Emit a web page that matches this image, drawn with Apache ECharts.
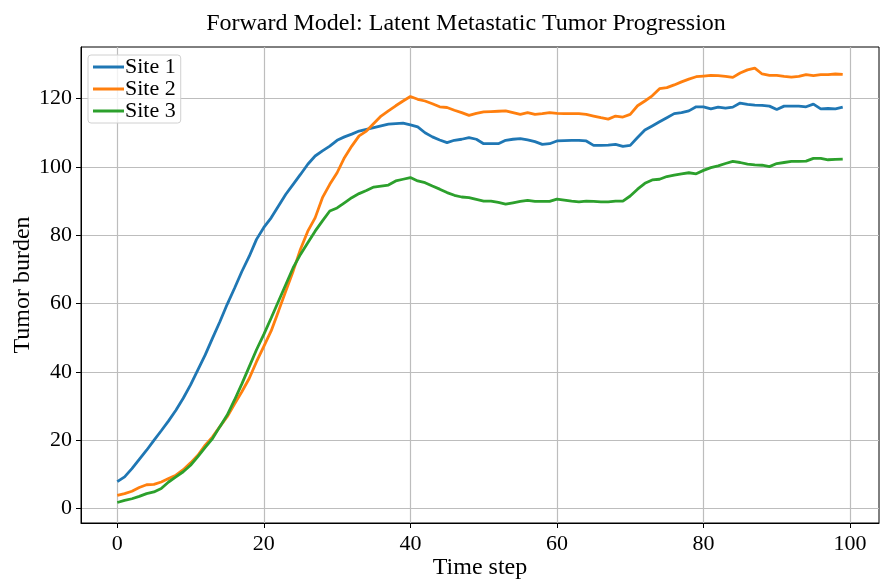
<!DOCTYPE html>
<html>
<head>
<meta charset="utf-8">
<script src="https://cdn.jsdelivr.net/npm/echarts@6/dist/echarts.min.js"></script>
<style>
  html, body { margin: 0; padding: 0; background: #fff; }
  #chart_tumor { width: 880px; height: 579px; }
</style>
</head>
<body>
<div id="chart_tumor"></div>
<script>
const seriesNames = ["Site 1", "Site 2", "Site 3"];

const site1 = [7.9, 9.3, 11.7, 14.4, 17.1, 20.0, 22.8, 25.7, 28.8, 32.3,
    36.2, 40.6, 45.0, 49.9, 54.7, 59.8, 64.5, 69.4, 73.8, 78.8,
    82.3, 85.1, 88.6, 92.0, 94.9, 97.8, 100.8, 103.2, 104.7, 106.1,
    107.8, 108.8, 109.6, 110.5, 111.0, 111.5, 112.0, 112.5, 112.7, 112.8,
    112.3, 111.7, 110.0, 108.8, 107.9, 107.1, 107.8, 108.1, 108.6, 108.1,
    106.8, 106.8, 106.8, 107.8, 108.1, 108.3, 107.9, 107.4, 106.6, 106.8,
    107.6, 107.7, 107.8, 107.8, 107.6, 106.3, 106.3, 106.4, 106.6, 106.0,
    106.3, 108.6, 110.8, 112.0, 113.2, 114.4, 115.6, 115.9, 116.4, 117.6,
    117.6, 117.0, 117.5, 117.2, 117.5, 118.7, 118.3, 118.1, 118.0, 117.8,
    116.8, 117.8, 117.8, 117.8, 117.6, 118.4, 117.0, 117.1, 117.0, 117.5];

const site2 = [3.9, 4.4, 5.1, 6.2, 7.0, 7.1, 7.8, 8.8, 9.8, 11.4,
    13.4, 15.6, 18.6, 21.0, 24.0, 26.9, 30.6, 34.2, 38.1, 43.0,
    47.5, 52.0, 57.8, 63.7, 69.5, 75.9, 81.2, 85.1, 91.0, 94.9,
    98.3, 102.7, 106.1, 109.1, 110.5, 112.7, 114.9, 116.4, 117.9, 119.3,
    120.6, 119.8, 119.3, 118.5, 117.6, 117.4, 116.6, 115.9, 115.1, 115.7,
    116.1, 116.2, 116.3, 116.4, 115.9, 115.4, 115.9, 115.4, 115.6, 115.9,
    115.7, 115.6, 115.6, 115.6, 115.4, 114.9, 114.4, 114.0, 114.9, 114.6,
    115.4, 117.9, 119.3, 120.8, 122.9, 123.2, 124.0, 124.9, 125.7, 126.4,
    126.6, 126.8, 126.7, 126.5, 126.2, 127.5, 128.4, 128.9, 127.2, 126.8,
    126.8, 126.5, 126.3, 126.5, 127.0, 126.7, 127.0, 127.0, 127.2, 127.1];

const site3 = [1.8, 2.4, 2.9, 3.6, 4.4, 4.9, 5.9, 7.8, 9.3, 10.8,
    12.7, 15.2, 17.9, 20.5, 24.0, 27.4, 31.8, 36.5, 41.5, 46.5,
    51.0, 55.8, 60.7, 65.6, 70.5, 74.4, 77.8, 81.2, 84.2, 87.1,
    88.0, 89.5, 91.0, 92.2, 93.1, 94.1, 94.4, 94.7, 95.9, 96.4,
    96.9, 95.9, 95.4, 94.4, 93.5, 92.5, 91.7, 91.2, 91.0, 90.5,
    90.0, 90.0, 89.6, 89.1, 89.5, 89.9, 90.2, 89.9, 89.9, 89.9,
    90.6, 90.3, 90.0, 89.8, 90.0, 89.9, 89.8, 89.8, 90.0, 90.0,
    91.5, 93.5, 95.2, 96.2, 96.4, 97.2, 97.6, 98.0, 98.3, 98.0,
    99.0, 99.8, 100.3, 101.0, 101.6, 101.3, 100.8, 100.6, 100.5, 100.1,
    101.0, 101.3, 101.6, 101.6, 101.7, 102.5, 102.5, 102.1, 102.2, 102.3];

const xTicks = [0, 20, 40, 60, 80, 100];
const yTicks = [0, 20, 40, 60, 80, 100, 120];

window.renderChartTumor = function () {
    const div = document.getElementById("chart_tumor");
    if (!div) return;

    const chart = echarts.init(div);

    const palette = ['#1f77b4', '#ff7f0e', '#2ca02c'];
    const textColor = '#000';
    const fontFamily = '"Liberation Serif", "Times New Roman", serif';
    const gridColor = '#bdbdbd';

    // x = index of the time step
    const toPairs = (arr) => arr.map((v, i) => [i, v]);
    const allSites = [site1, site2, site3];

    const option = {
        animation: false,
        textStyle: { fontFamily: fontFamily, color: textColor },
        color: palette,
        title: {
            text: 'Forward Model: Latent Metastatic Tumor Progression',
            left: 461,
            top: 7,
            textAlign: 'center',
            textStyle: { fontFamily: fontFamily, fontSize: 24, fontWeight: 'normal', color: textColor }
        },
        legend: {
            orient: 'vertical',
            left: 88,
            top: 55,
            padding: [1, 5, 1, 5],
            itemGap: 0,
            itemWidth: 31,
            itemHeight: 3,
            icon: 'rect',
            backgroundColor: 'rgba(255,255,255,0.8)',
            borderColor: '#d0d0d0',
            borderWidth: 1,
            borderRadius: 3,
            textStyle: { fontFamily: fontFamily, fontSize: 22, lineHeight: 22, color: textColor, padding: [0, 0, 0, -4] },
            data: seriesNames
        },
        grid: {
            left: 81,
            right: 1,
            top: 47,
            bottom: 56,
            outerBoundsMode: 'none',
            containLabel: false,
            show: true,
            borderColor: '#000',
            borderWidth: 1
        },
        xAxis: {
            type: 'value',
            min: -4.95,
            max: 103.95,
            name: 'Time step',
            nameLocation: 'middle',
            nameGap: 33,
            nameMoveOverlap: false,
            nameTextStyle: { fontFamily: fontFamily, fontSize: 24, color: textColor },
            axisLine: { show: true, onZero: false, lineStyle: { color: '#000', width: 1 } },
            axisTick: { show: true, inside: false, length: 5, lineStyle: { color: '#000' }, customValues: xTicks },
            axisLabel: { fontFamily: fontFamily, fontSize: 22, color: textColor, margin: 10, customValues: xTicks },
            splitLine: { show: true, lineStyle: { color: gridColor, width: 1.2 } }
        },
        yAxis: {
            type: 'value',
            min: -4.2,
            max: 135.1,
            name: 'Tumor burden',
            nameLocation: 'middle',
            nameGap: 46,
            nameMoveOverlap: false,
            nameTextStyle: { fontFamily: fontFamily, fontSize: 24, color: textColor },
            axisLine: { show: true, onZero: false, lineStyle: { color: '#000', width: 1 } },
            axisTick: { show: true, inside: false, length: 5, lineStyle: { color: '#000' }, customValues: yTicks },
            axisLabel: { fontFamily: fontFamily, fontSize: 22, color: textColor, margin: 9, customValues: yTicks },
            splitLine: { show: true, lineStyle: { color: gridColor, width: 1.2 } }
        },
        series: seriesNames.map((name, k) => ({
            name: name,
            type: 'line',
            data: toPairs(allSites[k]),
            showSymbol: false,
            symbol: 'none',
            lineStyle: { width: 2.8, color: palette[k] },
            itemStyle: { color: palette[k] }
        }))
    };

    chart.setOption(option);
    chart.resize();
};

window.renderChartTumor();
</script>
</body>
</html>
